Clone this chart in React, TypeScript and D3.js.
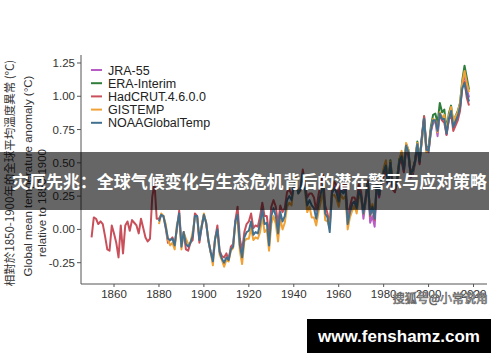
import React from "react";
import * as d3 from "d3";

const W = 500;
const H = 362;

const seriesNames = ["JRA-55", "ERA-Interim", "HadCRUT.4.6.0.0", "GISTEMP", "NOAAGlobalTemp"];
const seriesColors = ["#b65cc4", "#2f7d3b", "#c9505a", "#f0a236", "#42708f"];

const yTicks = [-0.25, 0, 0.25, 0.5, 0.75, 1.0, 1.25];
const yTickLabels = ["-0.25", "0.00", "0.25", "0.50", "0.75", "1.00", "1.25"];
const xTicks = [1860, 1880, 1900, 1920, 1940, 1960, 1980, 2000, 2020];

const hadStart = 1850;
const hadcrut = [
  -0.06, 0.09, 0.08, 0.04, 0.06, 0.04, -0.05, -0.15, -0.16, 0.03,
  -0.03, -0.10, -0.21, 0.03, -0.18, 0.03, 0.06, -0.01, 0.07, 0.05,
  0.03, -0.03, 0.08, 0.01, -0.06, -0.09, -0.07, 0.24, 0.35, 0.08,
  0.08, 0.11, 0.10, 0.01, -0.10, -0.08, -0.06, -0.11, 0.00, 0.14,
  -0.11, -0.02, -0.15, -0.16, -0.10, -0.08, 0.12, 0.10, -0.10, 0.02,
  0.11, 0.05, -0.09, -0.17, -0.21, -0.07, 0.03, -0.16, -0.20, -0.21,
  -0.18, -0.23, -0.13, -0.11, 0.07, 0.17, -0.07, -0.16, -0.02, 0.04,
  0.06, 0.12, 0.01, 0.03, 0.02, 0.10, 0.20, 0.10, 0.10, -0.04,
  0.17, 0.22, 0.17, 0.04, 0.18, 0.13, 0.16, 0.28, 0.30, 0.26,
  0.32, 0.33, 0.28, 0.31, 0.45, 0.34, 0.24, 0.27, 0.27, 0.24,
  0.14, 0.26, 0.34, 0.41, 0.18, 0.12, 0.04, 0.30, 0.36, 0.33,
  0.26, 0.35, 0.32, 0.36, 0.09, 0.17, 0.24, 0.24, 0.20, 0.34,
  0.28, 0.12, 0.25, 0.37, 0.10, 0.16, 0.07, 0.36, 0.25, 0.37,
  0.40, 0.45, 0.32, 0.50, 0.30, 0.28, 0.36, 0.50, 0.51, 0.43,
  0.61, 0.56, 0.42, 0.46, 0.52, 0.64, 0.49, 0.70, 0.85, 0.62,
  0.60, 0.75, 0.81, 0.82, 0.76, 0.86, 0.82, 0.80, 0.71, 0.82,
  0.87, 0.74, 0.78, 0.82, 0.89, 1.07, 1.11, 0.99, 0.93,
];

const gisStart = 1880;
const gistemp = [
  0.04, 0.12, 0.10, 0.04, -0.08, -0.12, -0.10, -0.15, 0.04, 0.10,
  -0.15, -0.02, -0.07, -0.11, -0.10, -0.02, 0.09, 0.09, -0.06, 0.03,
  0.12, 0.05, -0.08, -0.17, -0.27, -0.06, -0.02, -0.19, -0.23, -0.28,
  -0.23, -0.24, -0.16, -0.14, 0.05, 0.06, -0.16, -0.26, -0.09, -0.07,
  -0.07, 0.01, -0.08, -0.06, -0.07, -0.02, 0.10, -0.02, 0.00, -0.16,
  0.04, 0.10, 0.04, -0.09, 0.08, 0.00, 0.05, 0.17, 0.20, 0.18,
  0.33, 0.39, 0.27, 0.29, 0.40, 0.29, 0.13, 0.17, 0.09, 0.09,
  0.03, 0.13, 0.21, 0.28, 0.07, 0.06, 0.01, 0.25, 0.26, 0.23,
  0.17, 0.26, 0.23, 0.25, 0.00, 0.09, 0.14, 0.18, 0.12, 0.25,
  0.23, 0.12, 0.21, 0.36, 0.13, 0.19, 0.10, 0.38, 0.27, 0.36,
  0.46, 0.52, 0.34, 0.51, 0.36, 0.32, 0.38, 0.52, 0.59, 0.47,
  0.65, 0.60, 0.42, 0.43, 0.51, 0.65, 0.53, 0.66, 0.81, 0.58,
  0.59, 0.74, 0.83, 0.82, 0.73, 0.88, 0.84, 0.86, 0.74, 0.85,
  0.92, 0.81, 0.85, 0.88, 0.95, 1.10, 1.19, 1.10, 1.03,
];

const noaaStart = 1880;
const noaa = [
  0.06, 0.11, 0.10, 0.02, -0.07, -0.08, -0.07, -0.12, 0.02, 0.12,
  -0.13, -0.02, -0.11, -0.13, -0.10, -0.05, 0.10, 0.10, -0.08, 0.02,
  0.11, 0.05, -0.08, -0.17, -0.24, -0.07, 0.00, -0.17, -0.22, -0.25,
  -0.21, -0.23, -0.15, -0.13, 0.06, 0.11, -0.12, -0.21, -0.06, -0.02,
  -0.01, 0.06, -0.04, -0.02, -0.03, 0.04, 0.15, 0.04, 0.05, -0.12,
  0.10, 0.16, 0.10, -0.03, 0.13, 0.06, 0.10, 0.22, 0.25, 0.22,
  0.32, 0.36, 0.27, 0.30, 0.42, 0.31, 0.18, 0.22, 0.18, 0.16,
  0.08, 0.19, 0.27, 0.34, 0.12, 0.09, -0.02, 0.27, 0.31, 0.28,
  0.21, 0.30, 0.27, 0.30, 0.04, 0.13, 0.19, 0.21, 0.16, 0.29,
  0.25, 0.12, 0.23, 0.36, 0.11, 0.17, 0.08, 0.37, 0.26, 0.36,
  0.43, 0.48, 0.33, 0.50, 0.33, 0.30, 0.37, 0.51, 0.55, 0.45,
  0.63, 0.58, 0.42, 0.44, 0.51, 0.64, 0.51, 0.68, 0.83, 0.60,
  0.59, 0.74, 0.82, 0.82, 0.74, 0.87, 0.83, 0.83, 0.72, 0.83,
  0.89, 0.77, 0.81, 0.85, 0.92, 1.06, 1.10, 1.02, 0.96,
];

const jraStart = 1958;
const jra = [
  0.33, 0.28, 0.22, 0.30, 0.29, 0.33, 0.06, 0.11, 0.20, 0.20,
  0.15, 0.30, 0.24, 0.08, 0.21, 0.35, 0.05, 0.10, 0.02, 0.34,
  0.24, 0.34, 0.41, 0.45, 0.33, 0.49, 0.31, 0.28, 0.36, 0.50,
  0.55, 0.43, 0.62, 0.57, 0.39, 0.41, 0.50, 0.62, 0.50, 0.67,
  0.84, 0.59, 0.58, 0.73, 0.80, 0.81, 0.70, 0.87, 0.83, 0.84,
  0.71, 0.84, 0.90, 0.77, 0.81, 0.86, 0.91, 1.09, 1.17, 1.06,
  0.99,
];

const eraStart = 1979;
const era = [
  0.35, 0.44, 0.49, 0.33, 0.52, 0.34, 0.31, 0.39, 0.53, 0.57,
  0.46, 0.64, 0.60, 0.41, 0.44, 0.52, 0.66, 0.53, 0.69, 0.85,
  0.61, 0.62, 0.77, 0.86, 0.87, 0.80, 0.95, 0.88, 0.90, 0.75,
  0.87, 0.93, 0.80, 0.85, 0.89, 0.95, 1.12, 1.23, 1.14, 1.05,
];

const seriesData = [
  { start: jraStart, values: jra },
  { start: eraStart, values: era },
  { start: hadStart, values: hadcrut },
  { start: gisStart, values: gistemp },
  { start: noaaStart, values: noaa },
];

const bannerText = "灾厄先兆：全球气候变化与生态危机背后的潜在警示与应对策略";
const watermarkText = "搜狐号@小常说角";
const siteText = "www.fenshamz.com";

export default function App() {
  const x = d3.scaleLinear().domain([1845.3, 2026]).range([81, 487]);
  const y = d3.scaleLinear().domain([-0.41, 1.31]).range([284, 55]);

  const font = "'Liberation Sans', Arial, 'Noto Sans', sans-serif";

  return (
    <svg
      width={W}
      height={H}
      style={{ position: "absolute", left: 0, top: 0, background: "#fff" }}
      fontFamily={font}
    >
      <rect x={0} y={0} width={W} height={H} fill="#ffffff" />

      {/* series */}
      {seriesData.map((s, k) => {
        const gen = d3
          .line<number>()
          .x((_, i) => x(s.start + i))
          .y((v) => y(v))
          .curve(d3.curveLinear);
        return (
          <path
            key={k}
            d={gen(s.values) || ""}
            fill="none"
            stroke={seriesColors[k]}
            strokeWidth={2}
            strokeLinejoin="round"
          />
        );
      })}

      {/* axes */}
      <line x1={81} x2={81} y1={55} y2={284} stroke="#555" strokeWidth={1} />
      <line x1={81} x2={487} y1={284} y2={284} stroke="#555" strokeWidth={1} />
      {yTicks.map((t, i) => (
        <g key={"y" + i}>
          <line x1={77} x2={81} y1={y(t)} y2={y(t)} stroke="#555" strokeWidth={1} />
          <text
            x={75}
            y={y(t)}
            dy="0.35em"
            textAnchor="end"
            fontSize={11.5}
            fill="#333"
          >
            {yTickLabels[i]}
          </text>
        </g>
      ))}
      {xTicks.map((t) => (
        <g key={"x" + t}>
          <line x1={x(t)} x2={x(t)} y1={284} y2={287} stroke="#555" strokeWidth={1} />
          <text x={x(t)} y={298} textAnchor="middle" fontSize={11.5} fill="#333">
            {t}
          </text>
        </g>
      ))}

      {/* y titles */}
      <text
        transform="translate(14,173) rotate(-90)"
        textAnchor="middle"
        fontSize={11.5}
        fill="#333"
        fontFamily="'Noto Sans CJK TC', 'Noto Sans CJK SC', sans-serif"
      >
        相對於1850-1900年的全球平均溫度異常 (°C)
      </text>
      <text
        transform="translate(32,176) rotate(-90)"
        textAnchor="middle"
        fontSize={11.5}
        fill="#333"
      >
        Global mean temperature anomaly (°C)
      </text>
      <text
        transform="translate(46,203) rotate(-90)"
        textAnchor="middle"
        fontSize={11.5}
        fill="#333"
      >
        relative to 1850-1900
      </text>

      {/* legend */}
      {seriesNames.map((n, i) => (
        <g key={n}>
          <line
            x1={91}
            x2={102}
            y1={70 + i * 13.2}
            y2={70 + i * 13.2}
            stroke={seriesColors[i]}
            strokeWidth={2}
          />
          <text x={108} y={70 + i * 13.2} dy="0.36em" fontSize={12.5} fill="#222">
            {n}
          </text>
        </g>
      ))}

      {/* banner */}
      <rect x={0} y={152} width={489} height={58} fill="rgba(0,0,0,0.6)" />
      <text
        x={12}
        y={187.5}
        fontSize={17.5}
        fontWeight="bold"
        fill="#fff"
        textLength={475}
        lengthAdjust="spacingAndGlyphs"
        fontFamily="'Noto Sans CJK SC', sans-serif"
      >
        {bannerText}
      </text>

      {/* watermark */}
      <text
        x={488}
        y={303}
        textAnchor="end"
        fontSize={12}
        fill="#f4f4f4"
        stroke="#666"
        strokeWidth={0.7}
        fontFamily="'Noto Sans CJK SC', sans-serif"
      >
        {watermarkText}
      </text>

      {/* site box */}
      <rect x={307} y={319} width={184} height={34} fill="#000" />
      <text
        x={399}
        y={342}
        textAnchor="middle"
        fontSize={17}
        fontWeight="bold"
        fill="#fff"
      >
        {siteText}
      </text>
    </svg>
  );
}
